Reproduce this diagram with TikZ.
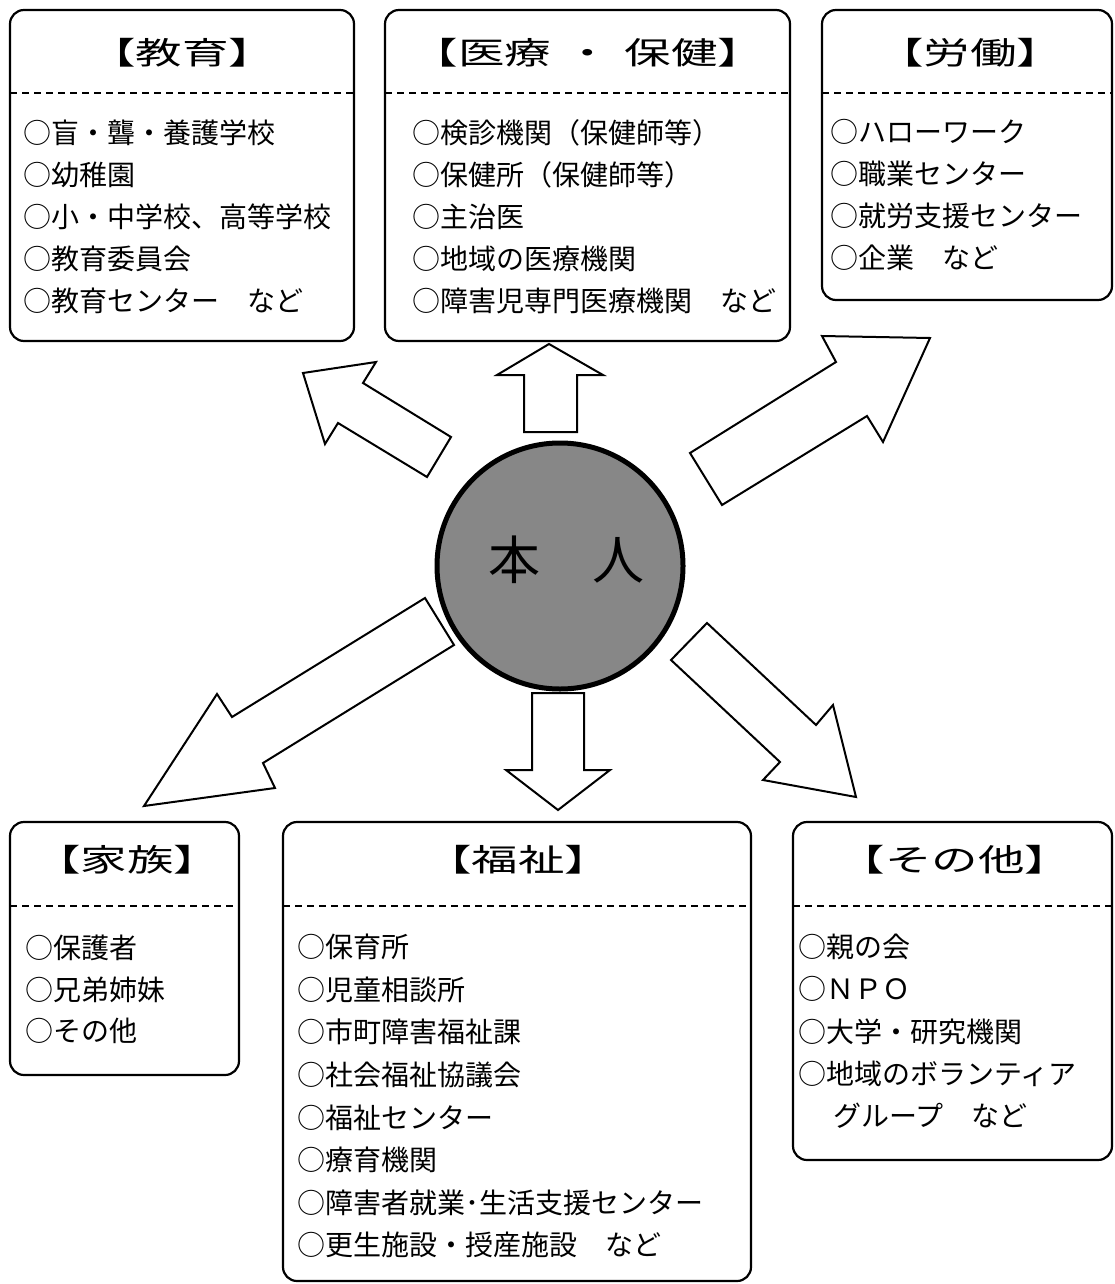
\documentclass[tikz,border=0pt]{standalone}
\usepackage{fontspec}
\usepackage{graphicx}
\newfontfamily\jp{Noto Sans CJK JP}
\begin{document}
\begin{tikzpicture}[x=1pt,y=-1pt,
  box/.style={draw, line width=2.2pt, rounded corners=14pt, anchor=north west, inner sep=0pt, outer sep=0pt},
  sepline/.style={line width=1.5pt, dash pattern=on 7pt off 5pt},
  ttl/.style={font=\jp\fontsize{31}{34}\selectfont, inner sep=0pt, text height=27.3pt, text depth=3.7pt},
  item/.style={font=\jp\fontsize{28}{32}\selectfont, anchor=west, inner sep=0pt, text height=24.6pt, text depth=3.4pt},
  blk/.style={draw, fill=white, line width=2pt, line join=miter},
]
\useasboundingbox (0,0) rectangle (1114,1284);

% boxes
\node[box, minimum width=344pt, minimum height=331pt] (edu) at (10,10) {};
\node[box, minimum width=405pt, minimum height=331pt] (med) at (385,10) {};
\node[box, minimum width=290pt, minimum height=290pt] (lab) at (822,10) {};
\node[box, minimum width=229pt, minimum height=253pt] (fam) at (10,822) {};
\node[box, minimum width=468pt, minimum height=459pt] (wel) at (283,822) {};
\node[box, minimum width=319pt, minimum height=338pt] (oth) at (793,822) {};

% separators
\draw[sepline] (10,93) -- (354,93);
\draw[sepline] (385,93) -- (790,93);
\draw[sepline] (822,93) -- (1112,93);
\draw[sepline] (10,906) -- (239,906);
\draw[sepline] (283,906) -- (751,906);
\draw[sepline] (793,906) -- (1112,906);

% titles
\node[ttl] (tedu) at (182,53) {\scalebox{1.5}[1]{【教育】}};
\node[ttl] (tmed) at (588,53) {\scalebox{1.5}[1]{【医療\hspace{9pt}・\hspace{9pt}保健】}};
\node[ttl] (tlab) at (970,53) {\scalebox{1.5}[1]{【労働】}};
\node[ttl] (tfam) at (127,860) {\scalebox{1.5}[1]{【家族】}};
\node[ttl] (twel) at (518,860) {\scalebox{1.5}[1]{【福祉】}};
\node[ttl] (toth) at (955,860) {\scalebox{1.5}[1]{【その他】}};

% items
\foreach \t [count=\i from 0] in {{○盲・聾・養護学校},{○幼稚園},{○小・中学校、高等学校},{○教育委員会},{○教育センター　など}}
  \node[item] at (23,133+42*\i) {\t};
\foreach \t [count=\i from 0] in {{○検診機関（保健師等）},{○保健所（保健師等）},{○主治医},{○地域の医療機関},{○障害児専門医療機関　など}}
  \node[item] at (412,133+42*\i) {\t};
\foreach \t [count=\i from 0] in {{○ハローワーク},{○職業センター},{○就労支援センター},{○企業　など}}
  \node[item] at (830,132+42*\i) {\t};
\foreach \t [count=\i from 0] in {{○保護者},{○兄弟姉妹},{○その他}}
  \node[item] at (25,948+41.5*\i) {\t};
\foreach \t [count=\i from 0] in {{○保育所},{○児童相談所},{○市町障害福祉課},{○社会福祉協議会},{○福祉センター},{○療育機関},{○障害者就業･生活支援センター},{○更生施設・授産施設　など}}
  \node[item] at (297,947+42.6*\i) {\t};
\foreach \t [count=\i from 0] in {{○親の会},{○ＮＰＯ},{○大学・研究機関},{○地域のボランティア}}
  \node[item] at (798,947+42.3*\i) {\t};
\node[item] at (833,1116) {グループ　など};

% block arrows
\draw[blk] (549,344) -- (603,375) -- (577,375) -- (577,432) -- (524,432) -- (524,375) -- (497,375) -- cycle;
\draw[blk] (303,373) -- (376,362) -- (363,383) -- (451,437) -- (427,477) -- (338,423) -- (325,444) -- cycle;
\draw[blk] (930,338) -- (883,442) -- (867,416) -- (722,505) -- (690,453) -- (836,362) -- (822,336) -- cycle;
\draw[blk] (144,806) -- (275,788) -- (263,763) -- (454,645) -- (425,598) -- (232,717) -- (217,694) -- cycle;
\draw[blk] (532,693) -- (584,693) -- (584,770) -- (610,770) -- (558,810) -- (506,770) -- (532,770) -- cycle;
\draw[blk] (707,623) -- (816,725) -- (833,705) -- (856,797) -- (763,780) -- (780,762) -- (671,660) -- cycle;

% centre
\node[circle, draw, line width=5pt, fill=black!47, minimum size=246pt, inner sep=0pt] (me) at (560,566) {};
\node[font=\jp\fontsize{52}{56}\selectfont, inner sep=0pt, text height=45.8pt, text depth=6.2pt] (melabel) at (566,560) {本　人};
\end{tikzpicture}
\end{document}
